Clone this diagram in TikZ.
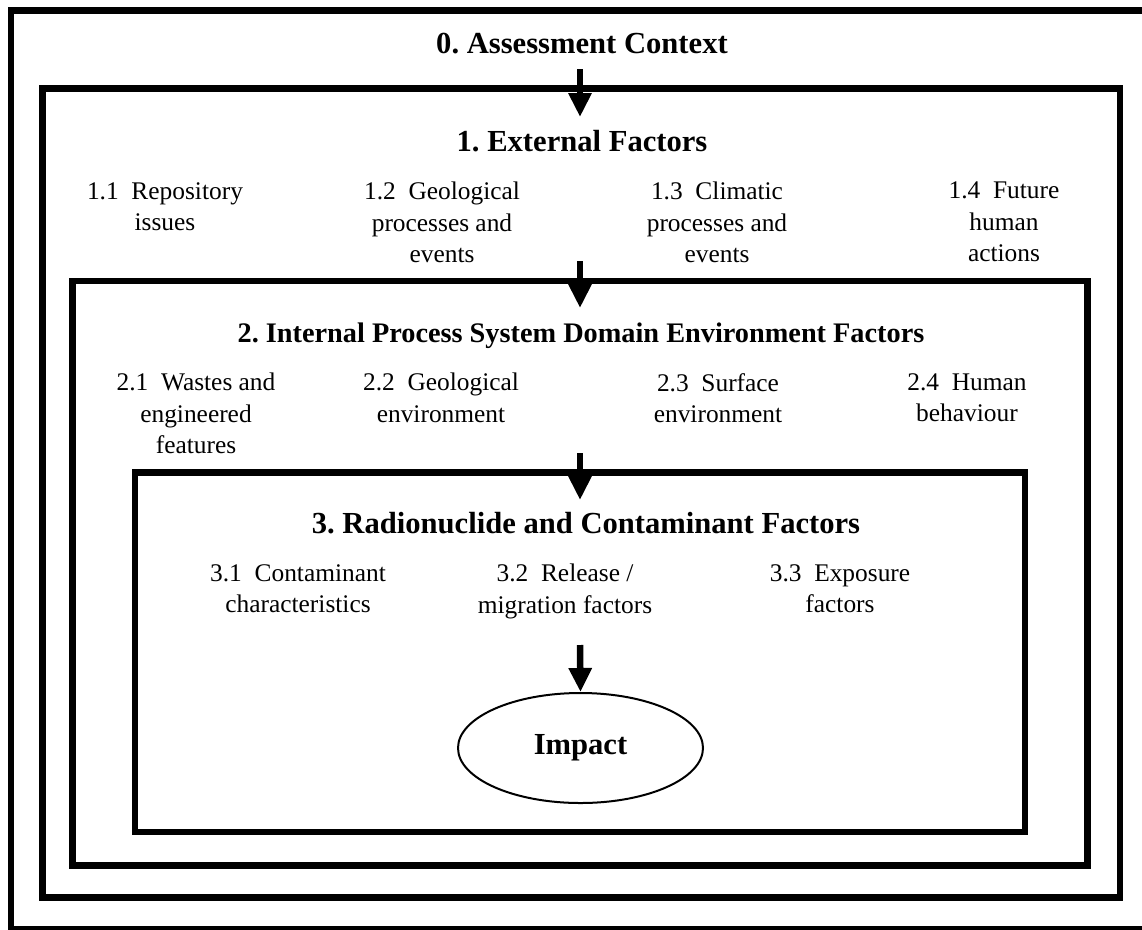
\documentclass[tikz,border=0pt]{standalone}
\usepackage{fontspec}
\setmainfont{Liberation Serif}
\usetikzlibrary{arrows.meta,shapes.geometric}
\tikzset{
  frame/.style={draw=black,line width=6.5pt},
  heading/.style={anchor=north,inner sep=0pt,font=\fontsize{30.6}{36}\selectfont\bfseries},
  item/.style={anchor=north,inner sep=0pt,align=center,font=\fontsize{25.4}{31.5}\selectfont,
    execute at begin node={\vphantom{l}}},
  flow/.style={line width=6.5pt,-{Triangle[width=22pt,length=24pt]}},
  impactnode/.style={ellipse,draw=black,line width=2pt,minimum width=245pt,minimum height=110pt,inner sep=0pt,font=\fontsize{30.6}{36}\selectfont\bfseries}
}
\begin{document}
\frenchspacing
\begin{tikzpicture}[x=1pt,y=-1pt]
\useasboundingbox (0,0) rectangle (1142,929);
% paper, reaching past the page edges
\fill[white] (-30,-30) rectangle (1180,960);

% outermost frame, cut off at the right and bottom edges
\draw[frame] (1180,10.5) -- (11,10.5) -- (11,929.5) -- (1180,929.5);

% nested frames
\draw[frame] (42.5,88.5) rectangle (1120,897.5);
\draw[frame] (72.5,281) rectangle (1087.5,865.5);
\draw[frame] (135,472.5) rectangle (1025,832);

% level 0
\node[heading] (ctx) at (582,33) {0. Assessment Context};

% level 1
\node[heading] (ext) at (582,130) {1. External Factors};
\node[item] (e1) at (165,182) {1.1~~Repository\\issues};
\node[item] (e2) at (442,182) {1.2~~Geological\\processes and\\events};
\node[item] (e3) at (717,182) {1.3~~Climatic\\processes and\\events};
\node[item] (e4) at (1004,182) {1.4~~Future\\human\\actions};

% level 2
\node[heading,font=\fontsize{28.3}{34}\selectfont\bfseries] (int) at (581,323) {2. Internal Process System Domain Environment Factors};
\node[item] (i1) at (196,373) {2.1~~Wastes and\\engineered\\features};
\node[item] (i2) at (441,373) {2.2~~Geological\\environment};
\node[item] (i3) at (718,373) {2.3~~Surface\\environment};
\node[item] (i4) at (967,373) {2.4~~Human\\behaviour};

% level 3
\node[heading] (rad) at (586,512) {3. Radionuclide and Contaminant Factors};
\node[item] (r1) at (298,564) {3.1~~Contaminant\\characteristics};
\node[item] (r2) at (565,564) {3.2~~Release /\\migration factors};
\node[item] (r3) at (840,564) {3.3~~Exposure\\factors};

% end point
\node[impactnode] (impact) at (580.5,748) {Impact};

% arrows between levels
\coordinate (a1s) at (580,69);
\coordinate (a1e) at (580,117);
\coordinate (a2s) at (580,261);
\coordinate (a2e) at (580,308);
\coordinate (a3s) at (580,453);
\coordinate (a3e) at (580,500);
\coordinate (a4s) at (580,645);
\draw[flow] (a1s) -- (a1e);
\draw[flow] (a2s) -- (a2e);
\draw[flow] (a3s) -- (a3e);
\draw[flow] (a4s) -- (impact.north);
\end{tikzpicture}
\end{document}
